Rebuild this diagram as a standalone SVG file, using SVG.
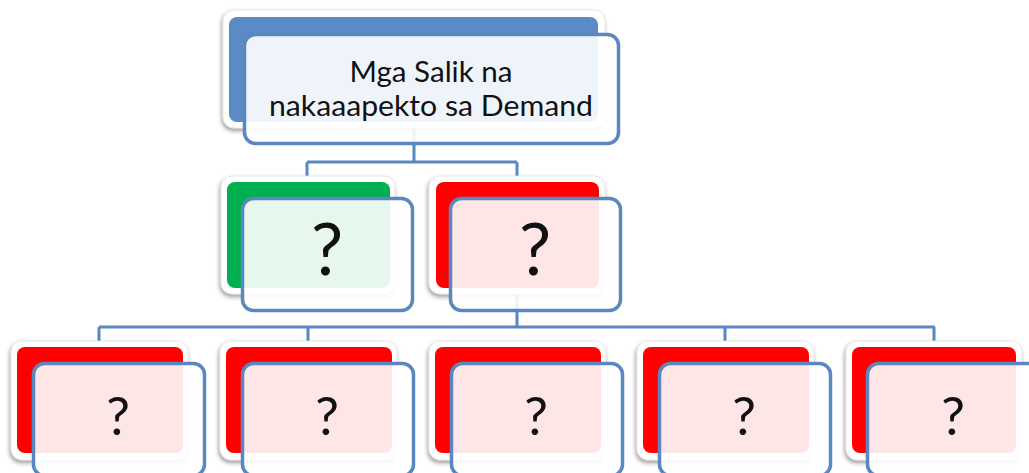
<svg xmlns="http://www.w3.org/2000/svg" width="1029" height="473" viewBox="0 0 1029 473">
  <defs>
    <filter id="sh" x="-10%" y="-10%" width="120%" height="130%">
      <feDropShadow dx="-1" dy="2.5" stdDeviation="2.2" flood-color="#000" flood-opacity="0.4"/>
    </filter>
  </defs>
  <style>
    .base { fill: #ffffff; stroke: #e2e2e2; stroke-width: 0.8; filter: url(#sh); }
    .blue { fill: #5b8bc6; }
    .green { fill: #00b050; }
    .red { fill: #ff0000; }
    .over { fill: #ffffff; fill-opacity: 0.9; stroke: #5b87c1; stroke-width: 3.5; }
    .conn { fill: none; stroke: #5b87c1; stroke-width: 3; }
    .t { font-family: Lato, "Open Sans", "Liberation Sans", sans-serif; fill: #111111; text-anchor: middle; }
  </style>
  <rect width="1029" height="473" fill="#ffffff"/>
  <g id="connectors">
    <path class="conn" d="M414 128 V162 M307 162 H517 M307 162 V176 M517 162 V176"/>
    <path class="conn" d="M517 294 V327 M99 327 H935 M99 327 V341 M308 327 V341 M725 327 V341 M934 327 V341"/>
  </g>
  <g id="node-top">
    <rect class="base" x="223" y="10" width="382" height="118" rx="11"/>
    <rect class="blue" x="229" y="17" width="369" height="105" rx="8"/>
    <rect class="over" x="244.5" y="34.5" width="374" height="109" rx="11"/>
    <text class="t" font-size="29" x="431" y="82" textLength="163" lengthAdjust="spacingAndGlyphs">Mga Salik na</text>
    <text class="t" font-size="29" x="431" y="116" textLength="324" lengthAdjust="spacingAndGlyphs">nakaaapekto sa Demand</text>
  </g>
  <g id="node-mid-1">
    <rect class="base" x="221" y="176" width="174" height="118" rx="11"/>
    <rect class="green" x="227" y="182" width="163" height="106" rx="8"/>
    <rect class="over" x="242.5" y="198.5" width="170" height="112" rx="11"/>
    <text class="t" font-size="72" x="327" y="275">?</text>
  </g>
  <g id="node-mid-2">
    <rect class="base" x="429" y="176" width="176" height="118" rx="11"/>
    <rect class="red" x="436" y="182" width="163" height="106" rx="8"/>
    <rect class="over" x="450.5" y="198.5" width="170" height="112" rx="11"/>
    <text class="t" font-size="72" x="535" y="275">?</text>
  </g>
  <g id="node-bot-1">
    <rect class="base" x="11" y="341" width="177" height="119" rx="11"/>
    <rect class="red" x="17" y="347" width="166" height="106" rx="8"/>
    <rect class="over" x="33.5" y="363.5" width="171" height="112" rx="11"/>
    <text class="t" font-size="53" x="118" y="435">?</text>
  </g>
  <g id="node-bot-2">
    <rect class="base" x="220" y="341" width="177" height="119" rx="11"/>
    <rect class="red" x="226" y="347" width="166" height="106" rx="8"/>
    <rect class="over" x="242.5" y="363.5" width="171" height="112" rx="11"/>
    <text class="t" font-size="53" x="327" y="435">?</text>
  </g>
  <g id="node-bot-3">
    <rect class="base" x="429" y="341" width="177" height="119" rx="11"/>
    <rect class="red" x="435" y="347" width="166" height="106" rx="8"/>
    <rect class="over" x="451.5" y="363.5" width="171" height="112" rx="11"/>
    <text class="t" font-size="53" x="536" y="435">?</text>
  </g>
  <g id="node-bot-4">
    <rect class="base" x="637" y="341" width="177" height="119" rx="11"/>
    <rect class="red" x="643" y="347" width="166" height="106" rx="8"/>
    <rect class="over" x="659.5" y="363.5" width="171" height="112" rx="11"/>
    <text class="t" font-size="53" x="744" y="435">?</text>
  </g>
  <g id="node-bot-5">
    <rect class="base" x="846" y="341" width="176" height="119" rx="11"/>
    <rect class="red" x="852" y="347" width="164" height="106" rx="8"/>
    <rect class="over" x="867.5" y="363.5" width="171" height="112" rx="11"/>
    <text class="t" font-size="53" x="953" y="435">?</text>
  </g>
</svg>
